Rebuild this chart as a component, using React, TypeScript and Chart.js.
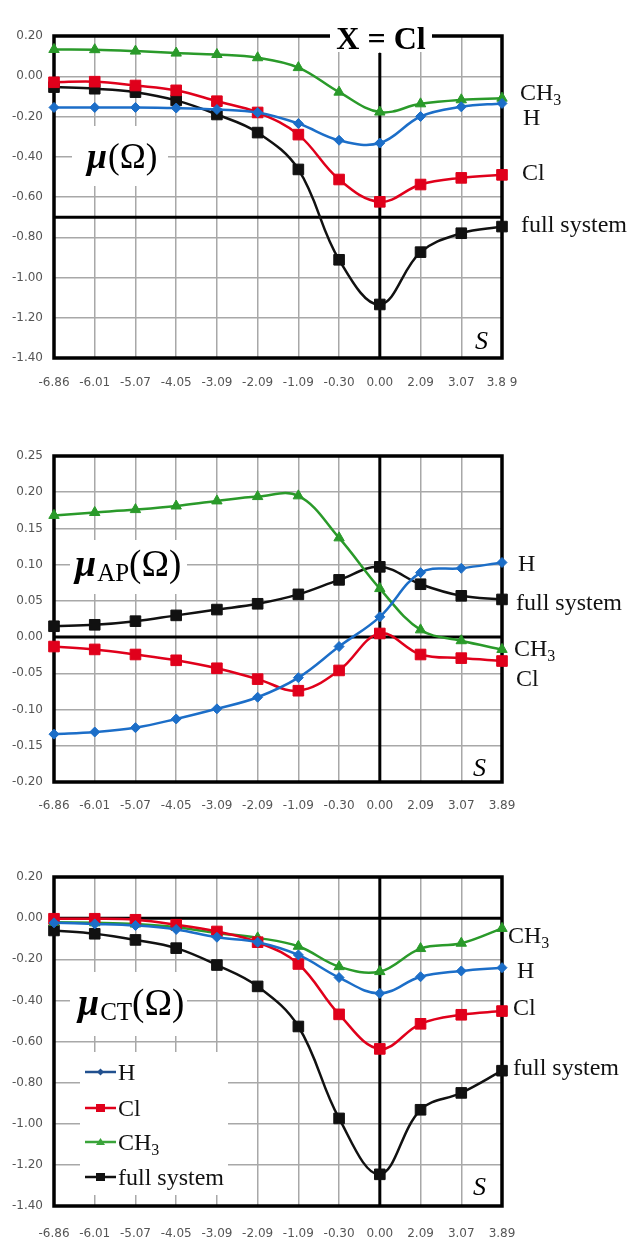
import React, { useEffect, useRef } from "react";
import { Chart, registerables } from "chart.js";
Chart.register(...registerables);

// ---------- data ----------
const S_LABELS = ["-6.86", "-6.01", "-5.07", "-4.05", "-3.09", "-2.09", "-1.09", "-0.30", "0.00", "2.09", "3.07", "3.89"];
const S_LABELS_TOP = ["-6.86", "-6.01", "-5.07", "-4.05", "-3.09", "-2.09", "-1.09", "-0.30", "0.00", "2.09", "3.07", "3.8 9"];

const MU_H = [-0.155, -0.155, -0.155, -0.158, -0.165, -0.18, -0.235, -0.318, -0.332, -0.2, -0.152, -0.135];
const MU_CL = [-0.03, -0.027, -0.046, -0.07, -0.124, -0.18, -0.29, -0.513, -0.624, -0.538, -0.505, -0.49];
const MU_CH3 = [0.133, 0.132, 0.125, 0.115, 0.108, 0.092, 0.043, -0.079, -0.178, -0.137, -0.117, -0.109];
const MU_FULL = [-0.054, -0.062, -0.079, -0.12, -0.19, -0.28, -0.463, -0.912, -1.134, -0.874, -0.78, -0.747];

const AP_H = [-0.134, -0.131, -0.125, -0.113, -0.099, -0.083, -0.056, -0.013, 0.028, 0.089, 0.095, 0.103];
const AP_CL = [-0.013, -0.017, -0.024, -0.032, -0.043, -0.058, -0.074, -0.046, 0.005, -0.024, -0.029, -0.033];
const AP_CH3 = [0.168, 0.172, 0.176, 0.181, 0.188, 0.194, 0.195, 0.137, 0.067, 0.01, -0.005, -0.017];
const AP_FULL = [0.015, 0.017, 0.022, 0.03, 0.038, 0.046, 0.059, 0.079, 0.097, 0.073, 0.057, 0.052];

const CT_H = [-0.023, -0.028, -0.036, -0.055, -0.093, -0.117, -0.179, -0.289, -0.366, -0.285, -0.257, -0.241];
const CT_CL = [-0.003, -0.003, -0.008, -0.032, -0.065, -0.117, -0.223, -0.468, -0.636, -0.514, -0.47, -0.452];
const CT_CH3 = [-0.02, -0.023, -0.029, -0.044, -0.072, -0.096, -0.137, -0.236, -0.26, -0.148, -0.122, -0.05];
const CT_FULL = [-0.06, -0.076, -0.106, -0.146, -0.228, -0.332, -0.527, -0.974, -1.246, -0.932, -0.85, -0.742];

const SERIES_NAMES = ["H", "Cl", "CH3", "full system"];

// ---------- styles ----------
const C_H = "#1c6ec8";
const C_CL = "#e0001b";
const C_CH3 = "#2a9a2a";
const C_FULL = "#111111";
const SERIF = '"Liberation Serif", "Times New Roman", serif';
const TICK_FONT = '"DejaVu Sans", sans-serif';
const GRID = "#a8a8a8";

type Lbl = { x: number; y: number; text: string; sub?: string };
type PanelCfg = {
  top: number;
  height: number;
  padTop: number;
  padBottom: number;
  xHeight: number;
  xPad: number;
  min: number;
  max: number;
  step: number;
  labels: string[];
  series: number[][];
  zeroIndex: number;
  hLineValue: number;
  vLineStartPage?: number;
  title?: boolean;
  mu: { x: number; base: number; sub?: string; box: number[]; size: number };
  sPos: { x: number; base: number };
  right: Lbl[];
  legend?: boolean;
};

const PANELS: PanelCfg[] = [
  {
    top: 0, height: 410, padTop: 36, padBottom: 12, xHeight: 40, xPad: 18,
    min: -1.4, max: 0.2, step: 0.2, labels: S_LABELS_TOP,
    series: [MU_H, MU_CL, MU_CH3, MU_FULL], zeroIndex: 8, hLineValue: -0.7, vLineStartPage: 53, title: true,
    mu: { x: 87, base: 168, box: [72, 126, 96, 60], size: 35 },
    sPos: { x: 475, base: 349 },
    right: [
      { x: 520, y: 92, text: "CH", sub: "3" },
      { x: 523, y: 117, text: "H" },
      { x: 522, y: 172, text: "Cl" },
      { x: 521, y: 224, text: "full system" },
    ],
  },
  {
    top: 420, height: 410, padTop: 36, padBottom: 8, xHeight: 40, xPad: 17,
    min: -0.2, max: 0.25, step: 0.05, labels: S_LABELS,
    series: [AP_H, AP_CL, AP_CH3, AP_FULL], zeroIndex: 8, hLineValue: 0,
    mu: { x: 75, base: 576, sub: "AP", box: [70, 540, 117, 54], size: 37 },
    sPos: { x: 473, base: 776 },
    right: [
      { x: 518, y: 563, text: "H" },
      { x: 516, y: 602, text: "full system" },
      { x: 514, y: 648, text: "CH", sub: "3" },
      { x: 516, y: 678, text: "Cl" },
    ],
  },
  {
    top: 837, height: 410, padTop: 40, padBottom: 6, xHeight: 35, xPad: 21,
    min: -1.4, max: 0.2, step: 0.2, labels: S_LABELS,
    series: [CT_H, CT_CL, CT_CH3, CT_FULL], zeroIndex: 8, hLineValue: 0,
    mu: { x: 78, base: 1015, sub: "CT", box: [70, 972, 117, 64], size: 37 },
    sPos: { x: 473, base: 1195 },
    right: [
      { x: 508, y: 935, text: "CH", sub: "3" },
      { x: 517, y: 970, text: "H" },
      { x: 513, y: 1007, text: "Cl" },
      { x: 513, y: 1067, text: "full system" },
    ],
    legend: true,
  },
];

function drawSubText(ctx: CanvasRenderingContext2D, x: number, base: number, text: string, sub: string | undefined, size: number) {
  ctx.font = `${size}px ${SERIF}`;
  ctx.textAlign = "left";
  ctx.textBaseline = "alphabetic";
  ctx.fillText(text, x, base);
  if (sub) {
    const w = ctx.measureText(text).width;
    ctx.font = `${Math.round(size * 0.68)}px ${SERIF}`;
    ctx.fillText(sub, x + w, base + size * 0.2);
  }
}

function drawMarker(ctx: CanvasRenderingContext2D, kind: number, x: number, y: number, color: string) {
  ctx.fillStyle = color;
  ctx.beginPath();
  if (kind === 0) {
    ctx.moveTo(x, y - 3.5); ctx.lineTo(x + 3.5, y); ctx.lineTo(x, y + 3.5); ctx.lineTo(x - 3.5, y);
  } else if (kind === 1 || kind === 3) {
    ctx.rect(x - 4.5, y - 4, 9, 8);
  } else {
    ctx.moveTo(x, y - 4); ctx.lineTo(x + 4.5, y + 3); ctx.lineTo(x - 4.5, y + 3);
  }
  ctx.closePath();
  ctx.fill();
}

function makePlugin(cfg: PanelCfg) {
  const off = cfg.top;
  return {
    id: "deco",
    beforeDatasetsDraw(chart: any) {
      const ctx: CanvasRenderingContext2D = chart.ctx;
      const a = chart.chartArea;
      const xs = chart.scales.x;
      const ys = chart.scales.y;
      ctx.save();
      // white boxes behind label / legend
      ctx.fillStyle = "#ffffff";
      const b = cfg.mu.box;
      ctx.fillRect(b[0], b[1] - off, b[2], b[3]);
      if (cfg.legend) ctx.fillRect(80, 1052 - off, 148, 143);

      // plot frame
      ctx.strokeStyle = "#000";
      ctx.lineWidth = 3.5;
      ctx.strokeRect(a.left, a.top, a.right - a.left, a.bottom - a.top);

      // axis lines through zero
      ctx.lineWidth = 3;
      const hy = ys.getPixelForValue(cfg.hLineValue);
      ctx.beginPath();
      ctx.moveTo(a.left, hy);
      ctx.lineTo(a.right, hy);
      ctx.stroke();
      const vx = xs.getPixelForValue(cfg.zeroIndex);
      ctx.beginPath();
      ctx.moveTo(vx, cfg.vLineStartPage !== undefined ? cfg.vLineStartPage - off : a.top);
      ctx.lineTo(vx, a.bottom);
      ctx.stroke();

      // title
      if (cfg.title) {
        ctx.fillStyle = "#fff";
        ctx.fillRect(330, 24 - off, 102, 28);
        ctx.fillStyle = "#000";
        ctx.font = `bold 32px ${SERIF}`;
        ctx.textAlign = "center";
        ctx.textBaseline = "alphabetic";
        ctx.fillText("X = Cl", 381, 49 - off);
      }

      // mu label
      ctx.fillStyle = "#000";
      ctx.textAlign = "left";
      ctx.textBaseline = "alphabetic";
      let x = cfg.mu.x;
      const base = cfg.mu.base - off;
      const sz = cfg.mu.size;
      ctx.font = `italic bold ${sz + 1}px ${SERIF}`;
      ctx.fillText("\u03bc", x, base);
      x += ctx.measureText("\u03bc").width + 1;
      if (cfg.mu.sub) {
        ctx.font = `${Math.round(sz * 0.68)}px ${SERIF}`;
        ctx.fillText(cfg.mu.sub, x, base + 5);
        x += ctx.measureText(cfg.mu.sub).width;
      }
      ctx.font = `${sz}px ${SERIF}`;
      ctx.fillText("(\u03a9)", x, base);

      // S
      ctx.font = `italic 26px ${SERIF}`;
      ctx.fillText("S", cfg.sPos.x, cfg.sPos.base - off);
      ctx.restore();
    },
    afterDraw(chart: any) {
      const ctx: CanvasRenderingContext2D = chart.ctx;
      ctx.save();
      ctx.fillStyle = "#111";
      for (const l of cfg.right) {
        drawSubText(ctx, l.x, l.y - off + 8, l.text, l.sub, 24);
      }
      if (cfg.legend) {
        const ys = [1072, 1108, 1142, 1177];
        const cols = ["#21508f", C_CL, "#3aa43a", C_FULL];
        for (let i = 0; i < 4; i++) {
          const y = ys[i] - off;
          ctx.strokeStyle = cols[i];
          ctx.lineWidth = 2.5;
          ctx.beginPath();
          ctx.moveTo(85, y);
          ctx.lineTo(116, y);
          ctx.stroke();
          drawMarker(ctx, i, 100.5, y, cols[i]);
          ctx.fillStyle = "#111";
          const name = SERIES_NAMES[i];
          if (name === "CH3") drawSubText(ctx, 118, y + 8, "CH", "3", 24);
          else drawSubText(ctx, 118, y + 8, name, undefined, 24);
        }
      }
      ctx.restore();
    },
  };
}

function Panel({ cfg }: { cfg: PanelCfg }) {
  const ref = useRef<HTMLCanvasElement | null>(null);
  useEffect(() => {
    const styles = [
      { color: C_H, point: "rectRot", r: 5 },
      { color: C_CL, point: "rect", r: 7.5 },
      { color: C_CH3, point: "triangle", r: 6 },
      { color: C_FULL, point: "rect", r: 7.5 },
    ];
    const datasets = cfg.series.map((d, i) => ({
      label: SERIES_NAMES[i],
      data: d,
      borderColor: styles[i].color,
      backgroundColor: styles[i].color,
      pointBackgroundColor: styles[i].color,
      pointBorderColor: styles[i].color,
      pointBorderWidth: 1,
      pointStyle: styles[i].point,
      pointRadius: styles[i].r,
      borderWidth: 2.5,
      tension: 0.38,
      clip: false as any,
    }));
    const chart = new Chart(ref.current as HTMLCanvasElement, {
      type: "line",
      data: { labels: cfg.labels, datasets },
      options: {
        responsive: false,
        animation: false,
        events: [],
        layout: { padding: { top: cfg.padTop, bottom: cfg.padBottom, left: 0, right: 127 } },
        plugins: { legend: { display: false }, tooltip: { enabled: false } },
        scales: {
          x: {
            type: "category",
            offset: false,
            grid: { color: GRID, lineWidth: 1.5, drawTicks: false, offset: false },
            border: { display: false },
            ticks: { autoSkip: false, maxRotation: 0, padding: cfg.xPad, color: "#555", font: { family: TICK_FONT, size: 12 } },
            afterFit: (s: any) => { s.height = cfg.xHeight; },
          },
          y: {
            min: cfg.min,
            max: cfg.max,
            grid: { color: GRID, lineWidth: 1.5, drawTicks: false },
            border: { display: false },
            ticks: {
              stepSize: cfg.step,
              padding: 11,
              color: "#555",
              font: { family: TICK_FONT, size: 12 },
              callback: (v: any) => (Math.abs(Number(v)) < 1e-9 ? "0.00" : Number(v).toFixed(2)),
            },
            afterFit: (s: any) => { s.width = 54; },
          },
        },
      },
      plugins: [makePlugin(cfg)],
    } as any);
    return () => chart.destroy();
  }, [cfg]);
  return (
    <div style={{ position: "absolute", left: 0, top: cfg.top, width: 629, height: cfg.height }}>
      <canvas ref={ref} width={629} height={cfg.height} style={{ display: "block" }} />
    </div>
  );
}

export default function App() {
  return (
    <div style={{ position: "absolute", left: 0, top: 0, width: 629, height: 1247, background: "#fff" }}>
      {PANELS.map((p, i) => (
        <Panel key={i} cfg={p} />
      ))}
    </div>
  );
}
